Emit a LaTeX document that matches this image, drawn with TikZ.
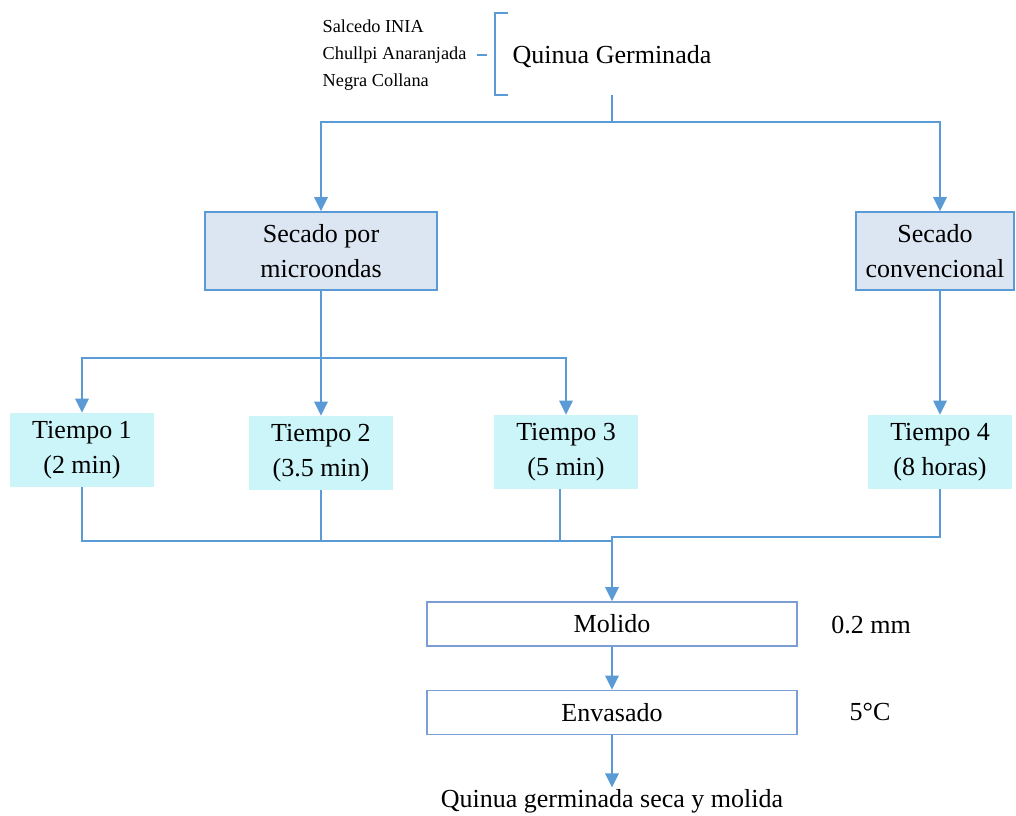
\documentclass[tikz,border=0pt]{standalone}
\usepackage{fontspec}
\setmainfont{Liberation Serif}
\usetikzlibrary{arrows.meta, calc}
\definecolor{flowblue}{HTML}{5B9BD5}
\definecolor{boxline}{HTML}{7C9FD3}
\definecolor{secfill}{HTML}{DCE6F2}
\definecolor{timefill}{HTML}{CCF5FA}
\tikzset{
  link/.style={draw=flowblue, line width=1.3pt},
  arr/.style={link, -{Triangle[width=9.5pt, length=10pt]}},
  bigtext/.style={font=\fontsize{18.5}{25}\selectfont},
  secbox/.style={bigtext, draw=flowblue, line width=1pt, fill=secfill, align=center, minimum height=1.95cm},
  timebox/.style={bigtext, fill=timefill, align=center, minimum width=3.6cm, minimum height=1.85cm},
  procbox/.style={bigtext, draw=boxline, line width=1.1pt, fill=white, minimum width=9.25cm, minimum height=1.1cm},
  plain/.style={bigtext, inner sep=1pt},
}

\begin{document}
\begin{tikzpicture}[x=0.025cm, y=-0.025cm]
  \useasboundingbox (0,0) rectangle (1016,815);
  % raw material
  \node[plain] (qg) at (612,57) {Quinua Germinada};
  \node[anchor=west, align=left, inner sep=1pt, font=\fontsize{13}{19}\selectfont] (var) at (321,55)
    {Salcedo INIA\\Chullpi Anaranjada\\Negra Collana};
  \draw[link, line width=1pt] (508,13) -- (495,13) -- (495,95) -- (508,95);
  \draw[link, line width=1pt] (477,55) -- (487,55);
  \coordinate (qgout) at (612,95);
  \coordinate (bus1) at (612,122);
  % drying
  \node[secbox, minimum width=5.8cm] (micro) at (321,251) {Secado por\\microondas};
  \node[secbox, minimum width=3.95cm] (conv) at (935,251) {Secado\\convencional};
  % drying times
  \node[timebox] (t1) at (82,450) {Tiempo 1\\(2 min)};
  \node[timebox] (t2) at (321,453) {Tiempo 2\\(3.5 min)};
  \node[timebox] (t3) at (566,452) {Tiempo 3\\(5 min)};
  \node[timebox] (t4) at (940,452) {Tiempo 4\\(8 horas)};
  % grinding and packing
  \node[procbox] (mol) at (612,624) {Molido};
  \node[procbox] (env) at (612,712.5) {Envasado};
  \node[plain] (mm) at (871,625) {0.2 mm};
  \node[plain] (temp) at (870,712) {5°C};
  \node[plain] (prod) at (612,801) {Quinua germinada seca y molida};
  % connectors
  \draw[link] (qgout) -- (bus1);
  \draw[arr] (bus1) -| (micro.north);
  \draw[arr] (bus1) -| (conv.north -| t4.north);
  \draw[arr] (conv.south -| t4.north) -- (t4.north);
  \coordinate (bus2) at (321,358);
  \draw[link] (micro.south) -- (bus2);
  \draw[arr] (bus2) -| (t1.north);
  \draw[arr] (bus2) -- (t2.north);
  \draw[arr] (bus2) -| (t3.north);
  \coordinate (joinL) at (612,541);
  \coordinate (joinR) at (612,537);
  \coordinate (t3out) at ($(t3.south)+(-6,0)$);
  \draw[link] (t1.south) |- (joinL);
  \draw[link] (t2.south) -- (t2.south |- joinL);
  \draw[link] (t3out) -- (t3out |- joinL);
  \draw[arr] (t4.south) |- (joinR) -- (mol.north);
  \draw[arr] (mol) -- (env);
  \draw[arr] (env) -- (prod);
\end{tikzpicture}
\end{document}
